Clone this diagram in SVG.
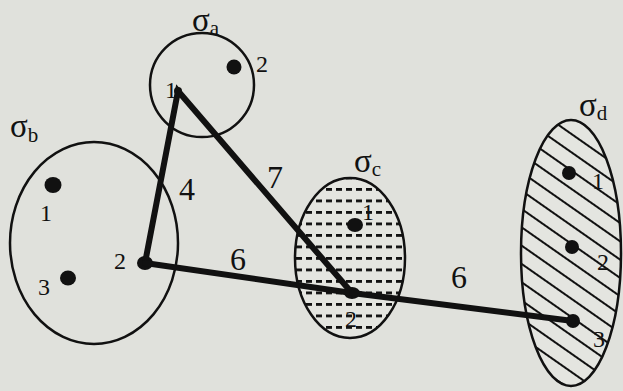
<svg xmlns="http://www.w3.org/2000/svg" width="623" height="391" viewBox="0 0 623 391">
<style>
.set{fill:none;stroke:#111;stroke-width:2.5}
.dot{fill:#111}
.nl{font-family:"Liberation Serif",serif;font-size:24px;fill:#111}
.el{font-family:"Liberation Serif",serif;font-size:32px;fill:#111}
.sg{font-family:"Liberation Serif",serif;font-size:33px;fill:#111}
.sub{font-size:21px}
.edge{stroke:#111;stroke-width:6;stroke-linecap:round;fill:none}
</style>
<defs>
<pattern id="dash" patternUnits="userSpaceOnUse" width="10" height="11.5" x="296" y="188">
<rect x="0" y="0" width="6" height="2.8" fill="#111"/>
</pattern>
<pattern id="hatch" patternUnits="userSpaceOnUse" width="20" height="15" patternTransform="rotate(35)">
<line x1="0" y1="7" x2="20" y2="7" stroke="#111" stroke-width="2"/>
</pattern>
</defs>
<rect width="623" height="391" fill="#e0e1dc"/>

<g id="sigma-a">
<circle class="set" cx="202" cy="85" r="52"/>
<text class="sg" x="192" y="31">σ<tspan class="sub" dy="4">a</tspan></text>
<circle class="dot" cx="234" cy="67" r="7.5"/>
<text class="nl" x="256" y="72">2</text>
<circle class="dot" cx="178" cy="91" r="4"/>
<text class="nl" x="165" y="98">1</text>
</g>

<g id="sigma-b">
<ellipse class="set" cx="94" cy="243" rx="84" ry="101"/>
<text class="sg" x="10" y="137">σ<tspan class="sub" dy="5">b</tspan></text>
<ellipse class="dot" cx="53" cy="185" rx="8.5" ry="8"/>
<text class="nl" x="40" y="221">1</text>
<ellipse class="dot" cx="145" cy="263" rx="8" ry="7"/>
<text class="nl" x="114" y="269">2</text>
<ellipse class="dot" cx="68" cy="278" rx="8" ry="7.5"/>
<text class="nl" x="38" y="295">3</text>
</g>

<g id="sigma-c">
<ellipse cx="350" cy="258" rx="55" ry="80" fill="#e4e5e0"/>
<ellipse cx="350" cy="258" rx="55" ry="80" fill="url(#dash)"/>
<ellipse class="set" cx="350" cy="258" rx="55" ry="80"/>
<text class="sg" x="354" y="172">σ<tspan class="sub" dy="4">c</tspan></text>
<ellipse class="dot" cx="355" cy="225" rx="8" ry="7"/>
<text class="nl" x="362" y="220">1</text>
<ellipse class="dot" cx="352" cy="293" rx="8" ry="6"/>
<text class="nl" x="345" y="327">2</text>
</g>

<g id="sigma-d">
<ellipse cx="571" cy="253" rx="50" ry="133" fill="#e4e5e0"/>
<ellipse cx="571" cy="253" rx="50" ry="133" fill="url(#hatch)"/>
<ellipse class="set" cx="571" cy="253" rx="50" ry="133"/>
<text class="sg" x="579" y="116">σ<tspan class="sub" dy="4">d</tspan></text>
<circle class="dot" cx="569" cy="173" r="7"/>
<text class="nl" x="592" y="189">1</text>
<circle class="dot" cx="572" cy="247" r="7"/>
<text class="nl" x="597" y="270">2</text>
<circle class="dot" cx="573" cy="321" r="7"/>
<text class="nl" x="593" y="347">3</text>
</g>

<g id="connectors">
<polyline class="edge" points="145,263 178,91 352,293"/>
<line class="edge" x1="145" y1="263" x2="352" y2="293"/>
<line class="edge" x1="352" y1="293" x2="573" y2="321"/>
<text class="el" x="179" y="200">4</text>
<text class="el" x="267" y="188">7</text>
<text class="el" x="230" y="270">6</text>
<text class="el" x="451" y="288">6</text>
</g>
</svg>
